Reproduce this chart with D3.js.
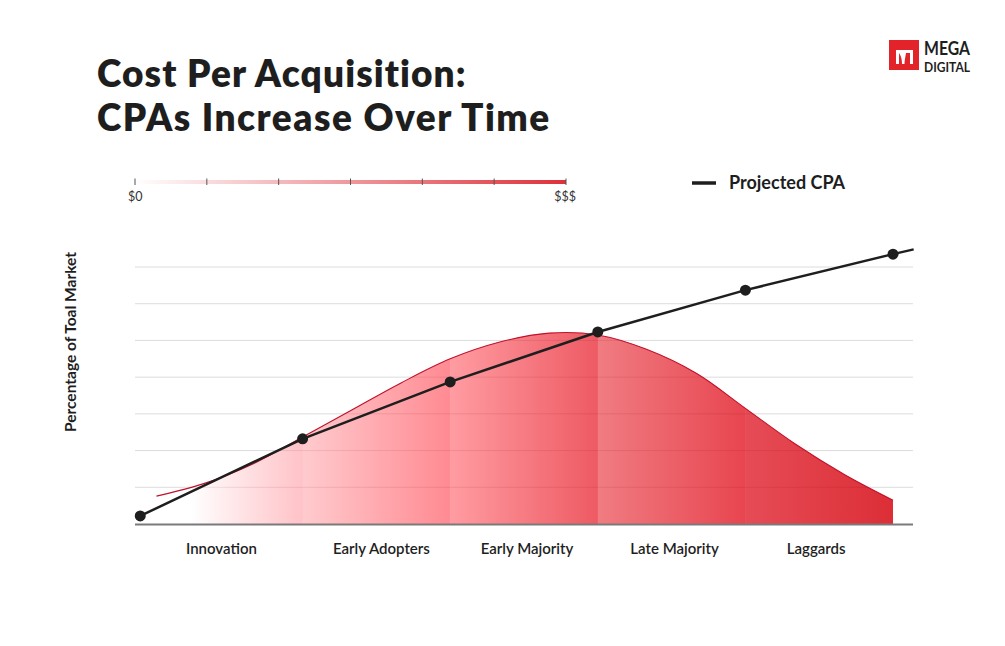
<!DOCTYPE html>
<html>
<head>
<meta charset="utf-8">
<script src="https://cdn.jsdelivr.net/npm/d3@7"></script>
<style>
  html, body { margin: 0; padding: 0; background: #fff; }
  svg { display: block; }
  text { font-family: "Lato", "Inter", sans-serif; }
</style>
</head>
<body>
<svg id="chart" width="1005" height="646"></svg>
<script>
// ---------- DATA ----------
const categories = ["Innovation", "Early Adopters", "Early Majority", "Late Majority", "Laggards"];
// adoption (bell) curve: stage position, share of market (grid units)
const adoptionX = [0.01, 0.33, 0.67, 1.0, 1.33, 1.67, 2.0, 2.33, 2.67, 3.0, 3.33, 3.67, 4.0, 4.33, 4.67, 5.0];
const adoptionY = [0.76, 1.1, 1.65, 2.37, 3.1, 3.85, 4.5, 4.95, 5.2, 5.15, 4.76, 4.1, 3.15, 2.2, 1.35, 0.65];
// projected CPA points
const cpaX = [-0.1, 1, 2, 3, 4, 5];
const cpaY = [0.22, 2.32, 3.87, 5.23, 6.37, 7.35];
const cpaEnd = { x: 5.14, y: 7.48 };
const gridLevels = [1, 2, 3, 4, 5, 6, 7];
const costTicks = [0, 1, 2, 3, 4, 5, 6];
const costLabels = ["$0", "$$$"];
// band gradient colours [start, end]
const bandColors = [
  ["#ffffff", "#ffc2c7"],
  ["#ffcbce", "#ff8a92"],
  ["#ff9ca2", "#ee5a63"],
  ["#f07c82", "#e8454f"],
  ["#e64c56", "#dc2e37"]
];

// ---------- SETUP ----------
const svg = d3.select("#chart");
const x = d3.scaleLinear().domain([0, 5]).range([155, 893]);
const y = d3.scaleLinear().domain([0, 7]).range([524, 267]);
const axisLeft = 135, axisRight = 913;
const defs = svg.append("defs");

// Title
const title = svg.append("g").attr("font-weight", 800).attr("fill", "#1e1e1e").attr("font-size", 37);
title.append("text").attr("x", 97).attr("y", 87).attr("letter-spacing", 1.1).text("Cost Per Acquisition:");
title.append("text").attr("x", 97).attr("y", 131).attr("letter-spacing", 1.5).text("CPAs Increase Over Time");

// Logo
const logo = svg.append("g");
logo.append("rect").attr("x", 889).attr("y", 40).attr("width", 30).attr("height", 30).attr("fill", "#e3232a");
logo.append("path")
  .attr("d", "M896,64 L896,50 L913,50 L913,64 L910,64 L910,53 L906,53 C905.5,57 904.5,60 904.5,64 L902,64 C902,60 901.5,57 899,53 L899,64 Z")
  .attr("fill", "#fff");
logo.append("text").attr("x", 924).attr("y", 55).attr("font-family", "'DejaVu Sans Condensed', 'Liberation Sans Narrow', sans-serif")
  .attr("font-weight", 700).attr("font-size", 18).attr("fill", "#1e1e1e").attr("textLength", 46).attr("lengthAdjust", "spacingAndGlyphs").text("MEGA");
logo.append("text").attr("x", 924).attr("y", 71.5).attr("font-family", "'DejaVu Sans Condensed', 'Liberation Sans Narrow', sans-serif")
  .attr("font-weight", 700).attr("font-size", 12.5).attr("fill", "#1e1e1e").attr("textLength", 46).attr("lengthAdjust", "spacingAndGlyphs").text("DIGITAL");

// Cost scale bar
const cost = d3.scaleLinear().domain([0, 6]).range([135, 566]);
const cg = defs.append("linearGradient").attr("id", "costGrad").attr("x1", "0%").attr("x2", "100%");
cg.append("stop").attr("offset", "0%").attr("stop-color", "#ffffff");
cg.append("stop").attr("offset", "100%").attr("stop-color", "#de3039");
svg.append("rect").attr("x", cost(0)).attr("y", 180).attr("width", cost(6) - cost(0)).attr("height", 4).attr("fill", "url(#costGrad)");
svg.append("g").selectAll("line").data(costTicks).join("line")
  .attr("x1", d => cost(d)).attr("x2", d => cost(d)).attr("y1", 178.5).attr("y2", 185)
  .attr("stroke", "#555").attr("stroke-width", 1);
svg.append("text").attr("x", 128).attr("y", 201).attr("font-size", 12.5).attr("fill", "#333").text(costLabels[0]);
svg.append("text").attr("x", 576).attr("y", 201).attr("text-anchor", "end").attr("font-size", 12.5).attr("fill", "#333").text(costLabels[1]);

// Legend
svg.append("line").attr("x1", 692).attr("x2", 716).attr("y1", 183).attr("y2", 183).attr("stroke", "#1e1e1e").attr("stroke-width", 3.5);
svg.append("text").attr("x", 729).attr("y", 189).attr("font-size", 18).attr("font-weight", 700).attr("fill", "#1e1e1e").text("Projected CPA");

// Y axis label
svg.append("text").attr("transform", "translate(76,342) rotate(-90)").attr("text-anchor", "middle")
  .attr("font-size", 15.5).attr("font-weight", 700).attr("fill", "#1e1e1e").text("Percentage of Toal Market");

// Grid (light)
svg.append("g").selectAll("line").data(gridLevels).join("line")
  .attr("x1", axisLeft).attr("x2", axisRight).attr("y1", d => y(d)).attr("y2", d => y(d))
  .attr("stroke", "#dcdcdc").attr("stroke-width", 1);

// Adoption area
const adoption = adoptionX.map((v, i) => ({ x: v, y: adoptionY[i] }));
const areaGen = d3.area().x(d => x(d.x)).y0(y(0)).y1(d => y(d.y)).curve(d3.curveCatmullRom.alpha(0.5));
const lineGen = d3.line().x(d => x(d.x)).y(d => y(d.y)).curve(d3.curveCatmullRom.alpha(0.5));
defs.append("clipPath").attr("id", "areaClip").append("path").attr("d", areaGen(adoption));

const bands = svg.append("g").attr("clip-path", "url(#areaClip)");
bandColors.forEach((c, i) => {
  const gid = "band" + i;
  const x0 = i === 0 ? x(0.24) : x(i);
  const g = defs.append("linearGradient").attr("id", gid).attr("gradientUnits", "userSpaceOnUse")
    .attr("x1", x0).attr("x2", x(i + 1)).attr("y1", 0).attr("y2", 0);
  g.append("stop").attr("offset", "0%").attr("stop-color", c[0]);
  g.append("stop").attr("offset", "100%").attr("stop-color", c[1]);
  bands.append("rect").attr("x", x(i)).attr("y", 240).attr("width", x(i + 1) - x(i) + (i === 4 ? 0 : 0.5))
    .attr("height", y(0) - 240).attr("fill", "url(#" + gid + ")");
});
// gridlines visible through fill
svg.append("g").attr("clip-path", "url(#areaClip)").selectAll("line").data(gridLevels).join("line")
  .attr("x1", axisLeft).attr("x2", axisRight).attr("y1", d => y(d)).attr("y2", d => y(d))
  .attr("stroke", "rgba(120,0,0,0.10)").attr("stroke-width", 1);
svg.append("path").attr("d", lineGen(adoption)).attr("fill", "none").attr("stroke", "#c0102a").attr("stroke-width", 1.1);

// Baseline
svg.append("line").attr("x1", axisLeft).attr("x2", axisRight).attr("y1", y(0) + 0.5).attr("y2", y(0) + 0.5)
  .attr("stroke", "#7a7a7a").attr("stroke-width", 2);

// Category labels
svg.append("g").selectAll("text").data(categories).join("text")
  .attr("x", (d, i) => i === 0 ? x(0.45) : x(i + 0.5) + [0, 5, 3, 3, -3][i])
  .attr("y", 554).attr("text-anchor", "middle").attr("font-size", 15).attr("font-weight", 600).attr("fill", "#1e1e1e")
  .text(d => d);

// CPA line
const cpa = cpaX.map((v, i) => ({ x: v, y: cpaY[i] }));
const cpaLine = d3.line().x(d => x(d.x)).y(d => y(d.y));
svg.append("path").attr("d", cpaLine(cpa.concat([cpaEnd]))).attr("fill", "none")
  .attr("stroke", "#1e1e1e").attr("stroke-width", 2.5).attr("stroke-linejoin", "round");
svg.append("g").selectAll("circle").data(cpa).join("circle")
  .attr("cx", d => x(d.x)).attr("cy", d => y(d.y)).attr("r", 5.5).attr("fill", "#1e1e1e");
</script>
</body>
</html>
